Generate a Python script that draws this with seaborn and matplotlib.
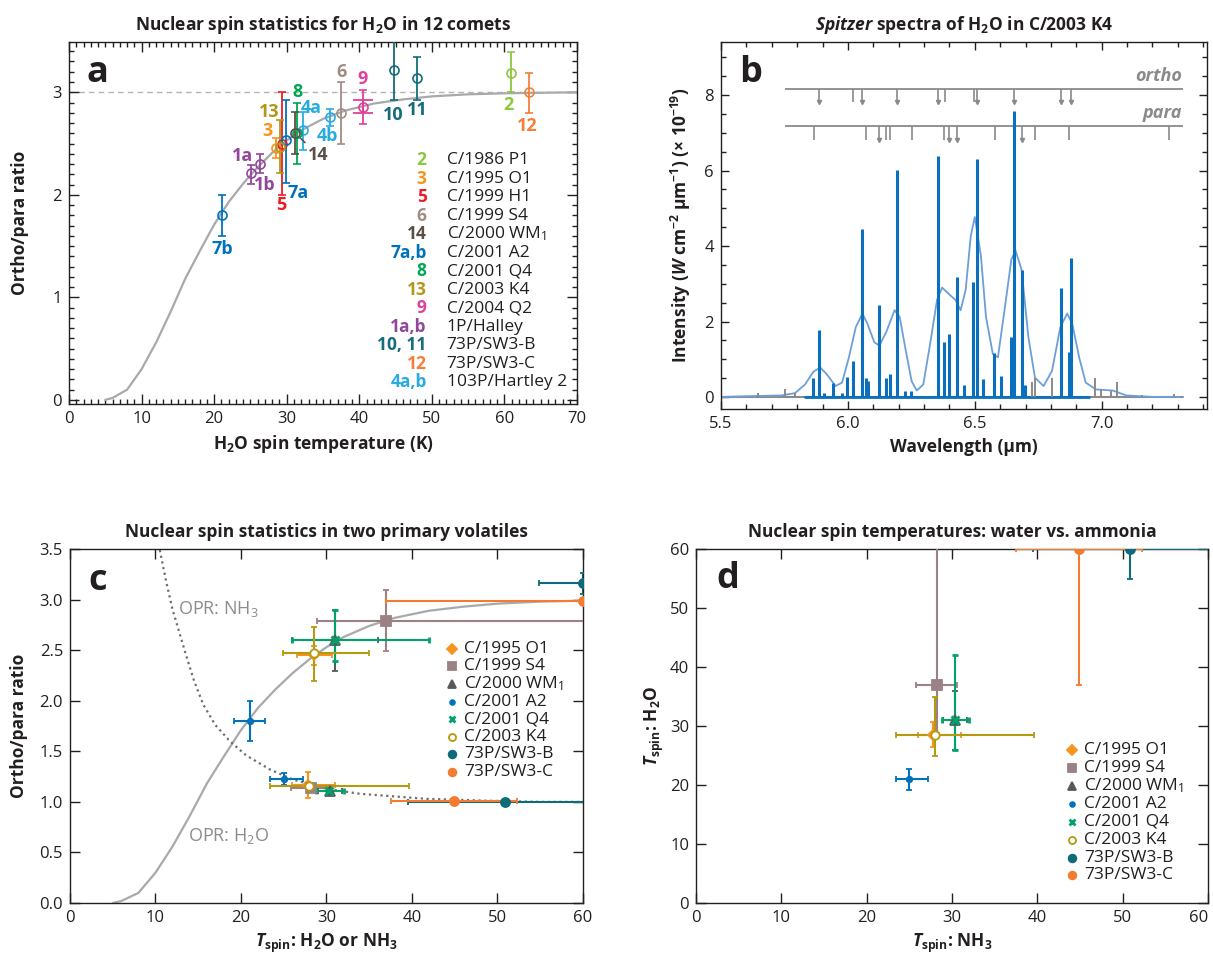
#!/usr/bin/env python3
"""Four panel figure: nuclear spin statistics of H2O (and NH3) in comets."""

import matplotlib
matplotlib.use("Agg")
import matplotlib.pyplot as plt
from matplotlib.ticker import MultipleLocator, FormatStrFormatter
import seaborn as sns

# ---------------------------------------------------------------- data
# theoretical H2O ortho/para ratio vs spin temperature
curve_t = [5, 6, 8, 10, 12, 14, 16, 18, 20, 22, 24, 26, 28, 30, 32, 35, 38, 42, 46, 50, 55, 60, 70]
curve_opr_h2o = [0.0, 0.02, 0.10, 0.30, 0.56, 0.86, 1.18, 1.45, 1.71, 1.93, 2.11, 2.27, 2.41, 2.53,
                 2.63, 2.74, 2.82, 2.89, 2.93, 2.96, 2.98, 2.99, 3.0]
opr_h2o_limit = 3.0

# theoretical NH3 ortho/para ratio (dotted curve, panel c)
curve_t_nh3 = [10.5, 11.3, 12.0, 13.4, 14.5, 15.6, 17.0, 18.7, 20.6, 23.4, 26.1, 30.0, 33.9, 41.7,
               49.5, 54.9, 60]
curve_opr_nh3 = [3.49, 3.16, 2.90, 2.50, 2.20, 1.96, 1.76, 1.60, 1.46, 1.32, 1.22, 1.13, 1.08, 1.03,
                 1.01, 1.0, 1.0]

# panel a: 12 comets
a_keys = ['1a', '1b', '2', '3', '4a', '4b', '5', '6', '7a', '7b', '8', '9', '10', '11', '12', '13', '14']
a_temp = [26.3, 25.1, 60.9, 28.5, 32.2, 36.0, 29.4, 37.5, 29.9, 21.1, 31.4, 40.5, 44.8, 48.0, 63.4, 29.1, 31.2]
a_opr = [2.30, 2.21, 3.19, 2.46, 2.63, 2.76, 2.50, 2.80, 2.53, 1.80, 2.60, 2.86, 3.22, 3.14, 3.00, 2.47, 2.60]
a_opr_low = [2.21, 2.11, 3.00, 2.36, 2.44, 2.67, 2.00, 2.50, 2.12, 1.60, 2.30, 2.69, 2.92, 2.92, 2.80, 2.21, 2.40]
a_opr_high = [2.40, 2.29, 3.39, 2.55, 2.81, 2.84, 3.00, 3.10, 2.92, 2.00, 2.90, 3.02, 3.52, 3.34, 3.19, 2.73, 2.81]
a_9_inner = [2.80, 2.92]

a_legend_keys = ['2', '3', '5', '6', '14', '7a,b', '8', '13', '9', '1a,b', '10, 11', '12', '4a,b']
a_legend_names = ['C/1986 P1', 'C/1995 O1', 'C/1999 H1', 'C/1999 S4', r'C/2000 WM$\mathregular{_1}$',
                  'C/2001 A2', 'C/2001 Q4', 'C/2003 K4', 'C/2004 Q2', '1P/Halley', '73P/SW3-B',
                  '73P/SW3-C', '103P/Hartley 2']

# panel b: Spitzer spectrum of C/2003 K4
line_wl = [5.864, 5.887, 5.904, 5.941, 5.975, 5.995, 6.020, 6.055, 6.071, 6.081, 6.124, 6.151, 6.167,
           6.193, 6.224, 6.248, 6.353, 6.380, 6.400, 6.431, 6.457, 6.492, 6.508, 6.532, 6.577, 6.604,
           6.644, 6.655, 6.685, 6.697, 6.841, 6.871, 6.880]
line_int = [0.49, 1.78, 0.10, 0.38, 0.10, 0.54, 0.96, 4.45, 0.51, 0.42, 2.44, 0.51, 0.60,
            6.02, 0.15, 0.17, 6.38, 1.47, 1.66, 3.18, 0.33, 3.05, 6.31, 0.47, 1.17, 0.55,
            1.60, 7.59, 3.36, 0.33, 2.90, 1.20, 3.69]
noise_wl = [5.644, 5.751, 5.790, 6.724, 6.737, 6.804, 6.975, 6.997, 7.037, 7.061, 7.157, 7.284]
noise_int = [0.10, 0.20, 0.10, 0.40, 0.50, 0.50, 0.50, 0.20, 0.15, 0.40, 0.05, 0.08]
spec_range = [5.50, 7.32]
blue_range = [5.83, 6.95]

model_wl = [5.50, 5.604, 5.737, 5.791, 5.831, 5.864, 5.891, 5.917, 5.951, 5.977, 6.004, 6.031, 6.057,
            6.077, 6.104, 6.124, 6.151, 6.184, 6.204, 6.228, 6.251, 6.271, 6.297, 6.324, 6.351, 6.371,
            6.404, 6.424, 6.444, 6.464, 6.484, 6.500, 6.524, 6.544, 6.571, 6.591, 6.617, 6.644, 6.661,
            6.684, 6.711, 6.737, 6.771, 6.804, 6.837, 6.864, 6.884, 6.911, 6.937, 6.977, 7.044, 7.097,
            7.204, 7.311]
model_int = [0.0, 0.02, 0.04, 0.10, 0.33, 0.67, 0.78, 0.60, 0.29, 0.38, 1.05, 1.85, 2.21,
             1.94, 1.45, 1.36, 1.72, 2.30, 2.12, 1.23, 0.42, 0.17, 0.33, 1.41, 2.57, 2.90,
             2.69, 2.57, 2.30, 2.84, 4.27, 4.77, 3.74, 2.12, 1.14, 1.05, 2.30, 3.65, 3.87,
             3.38, 1.59, 0.51, 0.29, 0.69, 1.85, 2.21, 1.94, 1.05, 0.38, 0.20, 0.17, 0.04,
             0.0, 0.0]

ortho_wl = [5.887, 6.020, 6.055, 6.193, 6.353, 6.381, 6.497, 6.508, 6.655, 6.840, 6.880]
ortho_arrow = [1, 0, 1, 1, 1, 0, 0, 1, 1, 1, 1]
para_wl = [5.865, 6.073, 6.124, 6.151, 6.167, 6.252, 6.380, 6.400, 6.431, 6.580, 6.685, 6.737, 6.872, 7.267]
para_arrow = [0, 0, 1, 0, 0, 0, 0, 1, 1, 0, 1, 0, 0, 0]
ruler_range = [5.752, 7.32]
ortho_level = 8.17
para_level = 7.18

# panels c and d: H2O and NH3 in 8 comets
comets = ['C/1995 O1', 'C/1999 S4', r'C/2000 WM$\mathregular{_1}$', 'C/2001 A2', 'C/2001 Q4',
          'C/2003 K4', '73P/SW3-B', '73P/SW3-C']
t_nh3 = [27.8, 28.2, 30.4, 25.0, 30.3, 28.0, 50.9, 44.9]
t_nh3_low = [26.0, 25.8, 29.0, 23.4, 28.8, 23.4, 39.5, 37.5]
t_nh3_high = [31.0, 30.6, 31.8, 27.2, 32.0, 39.6, 62.3, 52.3]
t_h2o = [28.5, 37.0, 31.0, 21.0, 31.0, 28.5, 60.0, 60.0]
t_h2o_low = [26.5, 28.9, 26.0, 19.2, 26.0, 24.9, 54.9, 37.0]
t_h2o_high = [30.6, 65.0, 36.0, 22.8, 42.0, 35.0, 60.0, 60.0]
opr_h2o = [2.45, 2.79, 2.60, 1.80, 2.60, 2.47, 3.16, 2.99]
opr_h2o_low = [2.35, 2.49, 2.29, 1.60, 2.39, 2.20, 3.06, 2.99]
opr_h2o_high = [2.54, 3.09, 2.90, 2.00, 2.90, 2.73, 3.26, 2.99]
opr_nh3 = [1.17, 1.14, 1.11, 1.23, 1.11, 1.16, 1.00, 1.01]
opr_nh3_low = [1.04, 1.12, 1.09, 1.17, 1.09, 1.14, 0.99, 1.00]
opr_nh3_high = [1.30, 1.16, 1.13, 1.29, 1.13, 1.18, 1.01, 1.02]

temp_ticks = [0, 10, 20, 30, 40, 50, 60]

# ---------------------------------------------------------------- style
FONT = 'Open Sans'
INK = '#231f20'
GRAY = '#8a8a8a'
FS = 12.5
col = {
    '1': '#92479b', '2': '#8dc63f', '3': '#f7941d', '4': '#29abe2', '5': '#ed1c24',
    '6': '#a08c84', '7': '#0072bc', '8': '#00a651', '9': '#e0409a', '10': '#146c7c',
    '11': '#146c7c', '12': '#f47f3a', '13': '#b0981a', '14': '#5b4f47',
}
comet_colors = ['#f7941d', '#9a8183', '#58595b', '#0072bc', '#00a36c', '#b59a10', '#0d6b7a', '#f47c30']
comet_markers = ['D', 's', '^', 'o', 'x', 'o', 'o', 'o']
comet_msize = [5.5, 6.5, 6.5, 4.0, 5.5, 6.0, 6.5, 6.5]

# label position for each panel a point (data coords)
a_label_xy = {
    '1a': (23.9, 2.38), '1b': (27.0, 2.10), '2': (60.6, 2.88), '3': (27.3, 2.62),
    '4a': (33.4, 2.85), '4b': (35.6, 2.57), '5': (29.2, 1.90), '6': (37.6, 3.20),
    '7a': (31.6, 2.02), '7b': (21.1, 1.47), '8': (31.5, 3.00), '9': (40.5, 3.13),
    '10': (44.7, 2.78), '11': (48.0, 2.83), '12': (63.2, 2.67), '13': (27.6, 2.81),
}


def key_color(key):
    return col[key.rstrip('ab')]


def style_axes(ax):
    for s in ax.spines.values():
        s.set_linewidth(1.0)
        s.set_color(INK)
    ax.tick_params(which='both', direction='in', top=True, right=True,
                   colors=INK, labelsize=12, width=1.0, pad=5)


def panel_letter(ax, letter, x, y):
    ax.text(x, y, letter, transform=ax.transAxes, fontsize=26, fontweight='bold',
            color=INK, ha='center', va='center')


def plot_panel_a(ax):
    sns.lineplot(x=curve_t, y=curve_opr_h2o, ax=ax, color='#a7a9ac', lw=1.6, zorder=1)
    ax.axhline(opr_h2o_limit, color='#b3b3b3', lw=1.0, ls=(0, (4, 3)), zorder=0)

    for key, t, o, lo, hi in zip(a_keys, a_temp, a_opr, a_opr_low, a_opr_high):
        c = key_color(key)
        ax.errorbar(t, o, yerr=[[o - lo], [hi - o]], fmt='o', mfc='none', mec=c, ms=6.5,
                    mew=1.2, ecolor=c, elinewidth=1.3, capsize=3, capthick=1.3, zorder=3)
        if key == '9':
            ax.errorbar(t, o, yerr=[[o - a_9_inner[0]], [a_9_inner[1] - o]], fmt='none',
                        ecolor=c, elinewidth=1.3, capsize=7, capthick=1.3, zorder=3)
        if key in a_label_xy:
            x, y = a_label_xy[key]
            ax.text(x, y, key, color=c, fontsize=13, fontweight='bold', ha='center', va='center')

    ax.annotate('14', xy=(31.2, 2.6), xytext=(34.4, 2.39), color=col['14'], fontsize=13,
                fontweight='bold', ha='center', va='center',
                arrowprops=dict(arrowstyle='-', color=col['14'], lw=1.1, shrinkA=0, shrinkB=4,
                                relpos=(0.0, 1.0)))

    # legend of comet numbers
    for i, (k, name) in enumerate(zip(a_legend_keys, a_legend_names)):
        y = 0.674 - i * 0.0511
        c = key_color(k.split(',')[0])
        ax.text(0.704, y, k, transform=ax.transAxes, color=c, fontsize=FS,
                fontweight='bold', ha='right', va='center')
        ax.text(0.7435, y, name, transform=ax.transAxes, color=INK, fontsize=FS,
                ha='left', va='center')

    ax.set_xlim(0, 70)
    ax.set_ylim(-0.04, 3.49)
    ax.xaxis.set_major_locator(MultipleLocator(10))
    ax.xaxis.set_minor_locator(MultipleLocator(1))
    ax.yaxis.set_major_locator(MultipleLocator(1))
    ax.yaxis.set_minor_locator(MultipleLocator(0.1))
    style_axes(ax)
    ax.tick_params(which='major', length=7)
    ax.tick_params(which='minor', length=3.5)
    ax.set_xlabel(r'$\mathregular{H_2O}$ spin temperature (K)', fontsize=FS,
                  fontweight='bold', color=INK)
    ax.set_ylabel('Ortho/para ratio', fontsize=FS, fontweight='bold', color=INK, labelpad=17)
    ax.set_title(r'Nuclear spin statistics for $\mathregular{H_2O}$ in 12 comets', fontsize=FS,
                 fontweight='bold', color=INK, pad=9)
    panel_letter(ax, 'a', 0.055, 0.915)


def plot_panel_b(ax):
    blue = '#0a6fbd'
    ax.plot(spec_range, [0, 0], color=GRAY, lw=1.5, zorder=1)
    sns.lineplot(x=model_wl, y=model_int, ax=ax, color='#6c9fd9', lw=1.3, zorder=2)
    ax.plot(blue_range, [0, 0], color=blue, lw=2.0, zorder=3)
    ax.vlines(line_wl, 0, line_int, color=blue, lw=2.2, zorder=4)
    ax.vlines(noise_wl, 0, noise_int, color=GRAY, lw=1.4, zorder=5)

    depth = 0.36
    for level, wls, arrows, label in [(ortho_level, ortho_wl, ortho_arrow, 'ortho'),
                                      (para_level, para_wl, para_arrow, 'para')]:
        ax.hlines(level, ruler_range[0], ruler_range[1], color=GRAY, lw=1.3)
        ax.vlines(wls, level - depth, level, color=GRAY, lw=1.2)
        arrow_wl = [w for w, a in zip(wls, arrows) if a]
        ax.plot(arrow_wl, [level - depth] * len(arrow_wl), ls='none', marker='v', ms=3,
                color=GRAY)
        ax.text(ruler_range[1] - 0.005, level + 0.1, label, color=GRAY, fontsize=13,
                style='italic', fontweight='bold', ha='right', va='bottom')

    ax.set_xlim(5.5, 7.415)
    ax.set_ylim(-0.32, 9.41)
    ax.xaxis.set_major_locator(MultipleLocator(0.5))
    ax.xaxis.set_minor_locator(MultipleLocator(0.1))
    ax.xaxis.set_major_formatter(FormatStrFormatter('%.1f'))
    ax.yaxis.set_major_locator(MultipleLocator(2))
    ax.yaxis.set_minor_locator(MultipleLocator(0.5))
    style_axes(ax)
    ax.tick_params(which='major', length=6)
    ax.tick_params(which='minor', length=3.5)
    ax.set_xlabel('Wavelength (µm)', fontsize=FS, fontweight='bold', color=INK)
    ax.set_ylabel(r'Intensity ($\mathit{W}$ cm$\mathregular{^{−2}}$ µm$\mathregular{^{−1}}$) '
                  r'(× 10$\mathregular{^{−19}}$)', fontsize=FS, fontweight='bold', color=INK,
                  labelpad=8)
    ax.set_title(r'$\mathit{Spitzer}$ spectra of $\mathregular{H_2O}$ in C/2003 K4', fontsize=FS,
                 fontweight='bold', color=INK, pad=9)
    panel_letter(ax, 'b', 0.06, 0.915)


def draw_comets(ax, xs, xlo, xhi, ys, ylo, yhi):
    for i in range(len(comets)):
        c = comet_colors[i]
        mfc = 'white' if i == 5 else c
        mew = 2.0 if comet_markers[i] == 'x' else 1.3
        ax.errorbar(xs[i], ys[i],
                    xerr=[[xs[i] - xlo[i]], [xhi[i] - xs[i]]],
                    yerr=[[ys[i] - ylo[i]], [yhi[i] - ys[i]]],
                    fmt=comet_markers[i], color=c, mfc=mfc, mec=c, ms=comet_msize[i], mew=mew,
                    elinewidth=1.5, capsize=2.5, capthick=1.5, zorder=3)


def comet_legend(ax, x0, y0, step):
    for i, name in enumerate(comets):
        y = y0 - i * step
        c = comet_colors[i]
        mfc = 'white' if i == 5 else c
        mew = 2.0 if comet_markers[i] == 'x' else 1.3
        ax.plot([x0], [y], transform=ax.transAxes, marker=comet_markers[i], color=c, mfc=mfc,
                mec=c, ms=comet_msize[i] * 0.85, mew=mew, ls='none', clip_on=False)
        ax.text(x0 + 0.023, y, name, transform=ax.transAxes, fontsize=FS, color=INK,
                ha='left', va='center')


def plot_panel_c(ax):
    sns.lineplot(x=curve_t, y=curve_opr_h2o, ax=ax, color='#a7a9ac', lw=1.6, zorder=1)
    sns.lineplot(x=curve_t_nh3, y=curve_opr_nh3, ax=ax, color='#6d6e71', lw=1.6,
                 ls=(0, (1, 1.6)), zorder=1)
    draw_comets(ax, t_h2o, t_h2o_low, t_h2o_high, opr_h2o, opr_h2o_low, opr_h2o_high)
    draw_comets(ax, t_nh3, t_nh3_low, t_nh3_high, opr_nh3, opr_nh3_low, opr_nh3_high)

    ax.text(12.6, 2.91, r'OPR: $\mathregular{NH_3}$', color='#8c8c8c', fontsize=13,
            ha='left', va='center')
    ax.text(13.8, 0.66, r'OPR: $\mathregular{H_2O}$', color='#8c8c8c', fontsize=13,
            ha='left', va='center')
    comet_legend(ax, 0.745, 0.718, 0.0497)

    ax.set_xlim(0, 60)
    ax.set_ylim(0, 3.5)
    ax.set_xticks(temp_ticks)
    ax.yaxis.set_major_locator(MultipleLocator(0.5))
    ax.yaxis.set_major_formatter(FormatStrFormatter('%.1f'))
    style_axes(ax)
    ax.tick_params(which='major', length=7.5)
    ax.set_xlabel(r'$\mathit{T}_{\mathregular{spin}}$: $\mathregular{H_2O}$ or $\mathregular{NH_3}$',
                  fontsize=FS, fontweight='bold', color=INK)
    ax.set_ylabel('Ortho/para ratio', fontsize=FS, fontweight='bold', color=INK, labelpad=8)
    ax.set_title('Nuclear spin statistics in two primary volatiles', fontsize=FS,
                 fontweight='bold', color=INK, pad=9)
    panel_letter(ax, 'c', 0.053, 0.91)


def plot_panel_d(ax):
    draw_comets(ax, t_nh3, t_nh3_low, t_nh3_high, t_h2o, t_h2o_low, t_h2o_high)
    comet_legend(ax, 0.735, 0.432, 0.0506)

    ax.set_xlim(0, 60)
    ax.set_ylim(0, 60)
    ax.set_xticks(temp_ticks)
    ax.set_yticks(temp_ticks)
    style_axes(ax)
    ax.tick_params(which='major', length=7.5)
    # last x tick label sits against the figure edge
    ax.get_xticklabels()[-1].set_horizontalalignment('right')
    ax.set_xlabel(r'$\mathit{T}_{\mathregular{spin}}$: $\mathregular{NH_3}$', fontsize=FS,
                  fontweight='bold', color=INK)
    ax.set_ylabel(r'$\mathit{T}_{\mathregular{spin}}$: $\mathregular{H_2O}$', fontsize=FS,
                  fontweight='bold', color=INK, labelpad=3)
    ax.set_title('Nuclear spin temperatures: water vs. ammonia', fontsize=FS,
                 fontweight='bold', color=INK, pad=9)
    panel_letter(ax, 'd', 0.0625, 0.915)


def main():
    sns.set_theme(style='ticks')
    plt.rcParams['font.family'] = [FONT, 'DejaVu Sans']
    plt.rcParams['mathtext.fontset'] = 'custom'
    plt.rcParams['mathtext.rm'] = FONT
    plt.rcParams['mathtext.it'] = FONT + ':italic:bold'
    plt.rcParams['mathtext.bf'] = FONT + ':bold'

    fig = plt.figure(figsize=(12.13, 9.57), dpi=100)
    ax_a = fig.add_axes([0.0569, 0.5778, 0.4188, 0.3783])
    ax_b = fig.add_axes([0.5944, 0.5726, 0.4007, 0.3835])
    ax_c = fig.add_axes([0.0577, 0.0564, 0.4229, 0.3699])
    ax_d = fig.add_axes([0.5738, 0.0564, 0.4221, 0.3699])

    plot_panel_a(ax_a)
    plot_panel_b(ax_b)
    plot_panel_c(ax_c)
    plot_panel_d(ax_d)

    fig.savefig('out.png', dpi=100)
    plt.close(fig)


if __name__ == "__main__":
    main()
